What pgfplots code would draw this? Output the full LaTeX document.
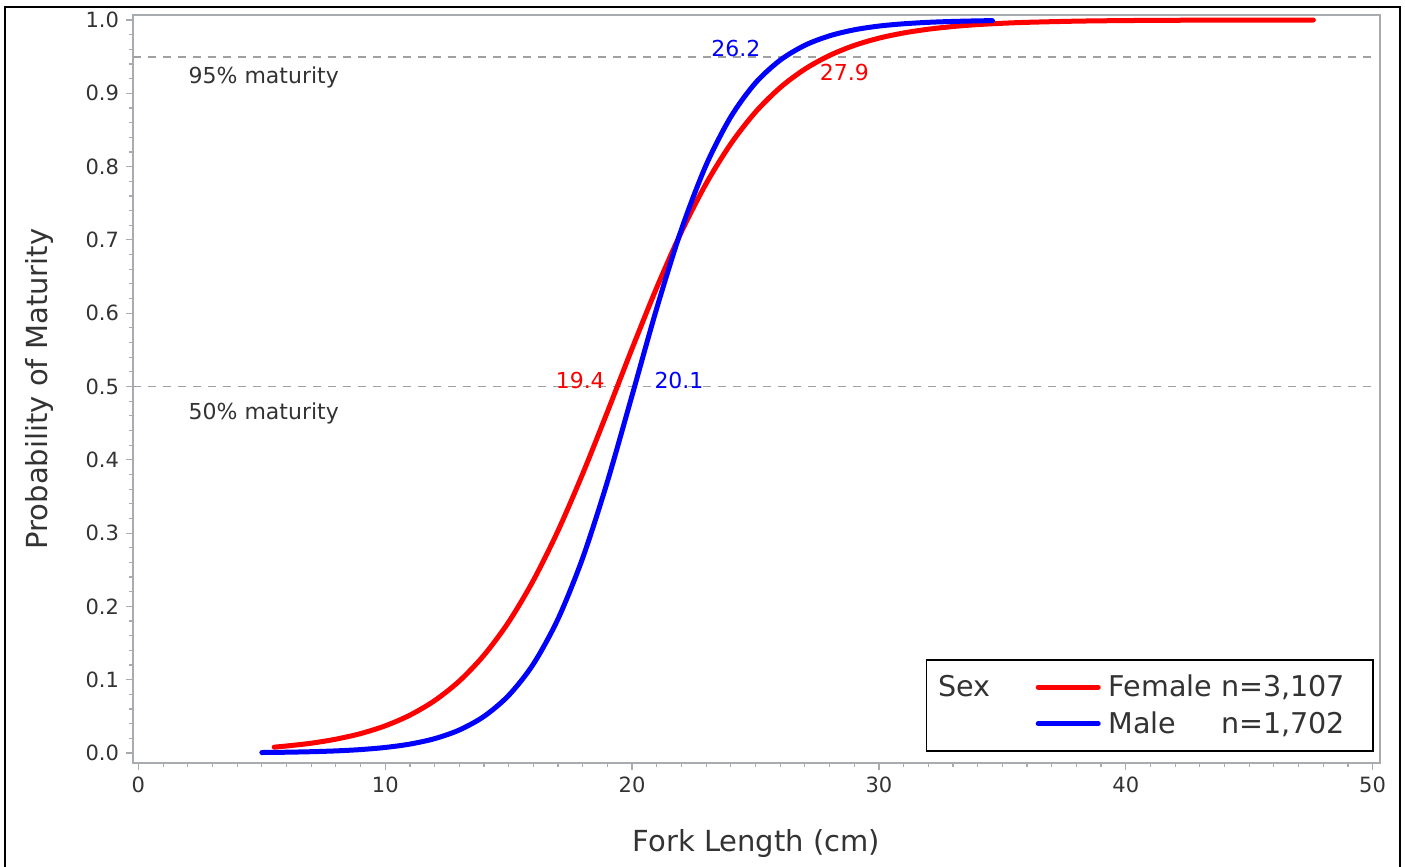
\documentclass[border=0pt]{standalone}
\usepackage{fontspec}
\setmainfont{DejaVu Sans}
\usepackage{calc}
\usepackage{pgfplots}
\pgfplotsset{compat=1.18}

\definecolor{axisgray}{HTML}{A8ACB0}
\definecolor{refgray}{HTML}{A0A0A0}
\definecolor{txt}{HTML}{333333}

\begin{document}
\begin{tikzpicture}
\begin{axis}[
    scale only axis,
    width=623.5pt, height=374pt,
    at={(0,0)}, anchor=south west,
    xmin=-0.22, xmax=50.3,
    ymin=-0.0136, ymax=1.0068,
    xtick={0,10,20,30,40,50},
    ytick={0,0.1,0.2,0.3,0.4,0.5,0.6,0.7,0.8,0.9,1},
    minor x tick num=9, minor y tick num=4,
    tick pos=left, tick align=outside,
    major tick length=3.5pt, minor tick length=2pt,
    axis line style={axisgray, line width=0.8pt},
    tick style={axisgray, line width=0.6pt},
    ticklabel style={font=\fontsize{10.5}{12}\selectfont, text=txt},
    yticklabel style={/pgf/number format/.cd, fixed, fixed zerofill, precision=1},
    /pgf/number format/assume math mode=true,
    xlabel={Fork Length (cm)},
    ylabel={Probability of Maturity},
    label style={font=\fontsize{14.5}{17}\selectfont, text=txt},
    xlabel style={at={(axis description cs:0.5,-0.107)}, anchor=center},
    ylabel style={at={(axis description cs:-0.0746,0.5)}, anchor=center},
    legend columns=2,
    legend cell align=left,
    legend image code/.code={\draw[#1] (0pt,0pt) -- (30pt,0pt);},
    legend style={at={(0.9952,0.0147)}, anchor=south east,
        draw=black, line width=0.8pt,
        font=\fontsize{14.3}{17}\selectfont, text=txt,
        inner xsep=2pt, inner ysep=5.5pt, row sep=2pt,
        /tikz/every even column/.append style={column sep=20.5pt},
        /tikz/every odd column/.append style={column sep=2pt}},
]
% reference lines
\addplot[refgray, dash pattern=on 4pt off 3.5pt, line width=0.9pt, forget plot]
    coordinates {(-0.22,0.95) (50,0.95)};
\addplot[refgray, dash pattern=on 4pt off 3.5pt, line width=0.9pt, forget plot]
    coordinates {(-0.22,0.5) (50,0.5)};

\addlegendimage{empty legend}
\addlegendentry{Sex}

% female
\addplot[red, line width=2.5pt, smooth, line cap=round] coordinates {
 (5.5,0.0080) (6,0.0096) (7,0.0134) (8,0.0189) (9,0.0265) (10,0.0371)
 (11,0.0517) (12,0.0715) (13,0.0982) (14,0.1335) (15,0.1788) (16,0.2355)
 (17,0.3033) (18,0.3811) (19,0.4654) (20,0.5518) (21,0.6351) (22,0.7111)
 (23,0.7768) (24,0.8311) (25,0.8744) (26,0.9078) (27,0.9330) (28,0.9516)
 (29,0.9653) (30,0.9752) (31,0.9823) (32,0.9874) (33,0.9911) (34,0.9937)
 (35,0.9955) (36,0.9968) (38,0.9984) (40,0.9992) (42,0.9996) (44,0.9998)
 (47.6,0.9999)
};
\addlegendentry{\makebox[\widthof{Female n=3,107}+10pt][l]{Female n=3,107}}

\addlegendimage{empty legend}
\addlegendentry{}

% male
\addplot[blue, line width=2.5pt, smooth, line cap=round] coordinates {
 (5,0.0007) (6,0.0011) (7,0.0018) (8,0.0029) (9,0.0047) (10,0.0076)
 (11,0.0122) (12,0.0196) (13,0.0314) (14,0.0500) (15,0.0786) (16,0.1214)
 (17,0.1830) (18,0.2662) (19,0.3703) (20,0.4879) (21,0.6069) (22,0.7144)
 (23,0.8022) (24,0.8679) (25,0.9142) (26,0.9452) (27,0.9655) (28,0.9784)
 (29,0.9866) (30,0.9917) (31,0.9948) (32,0.9968) (33,0.9980) (34,0.9988)
 (34.6,0.9991)
};
\addlegendentry{\makebox[\widthof{Female n=3,107}+10pt][l]{\makebox[\widthof{Female n=3,107}][l]{Male\hfill n=1,702}}}

% annotations
\node[anchor=west, text=txt, font=\fontsize{11}{13}\selectfont] at (axis cs:1.75,0.921) {95\% maturity};
\node[anchor=west, text=txt, font=\fontsize{11}{13}\selectfont] at (axis cs:1.75,0.463) {50\% maturity};
\node[anchor=south, inner sep=0.5pt, text=blue, font=\fontsize{11}{13}\selectfont] at (axis cs:24.2,0.948) {26.2};
\node[anchor=north, inner sep=1pt, text=red, font=\fontsize{11}{13}\selectfont] at (axis cs:28.6,0.943) {27.9};
\node[anchor=south, inner sep=0.5pt, text=red, font=\fontsize{11}{13}\selectfont] at (axis cs:17.9,0.495) {19.4};
\node[anchor=south, inner sep=0.5pt, text=blue, font=\fontsize{11}{13}\selectfont] at (axis cs:21.9,0.495) {20.1};
\end{axis}
% outer frame
\draw[black, line width=1.2pt] (-64pt,-60pt) -- (-64pt,378pt) -- (633.5pt,378pt) -- (633.5pt,-60pt);
\pgfresetboundingbox
\useasboundingbox (-66.5pt,-52pt) rectangle (636pt,381.5pt);
\end{tikzpicture}
\end{document}
